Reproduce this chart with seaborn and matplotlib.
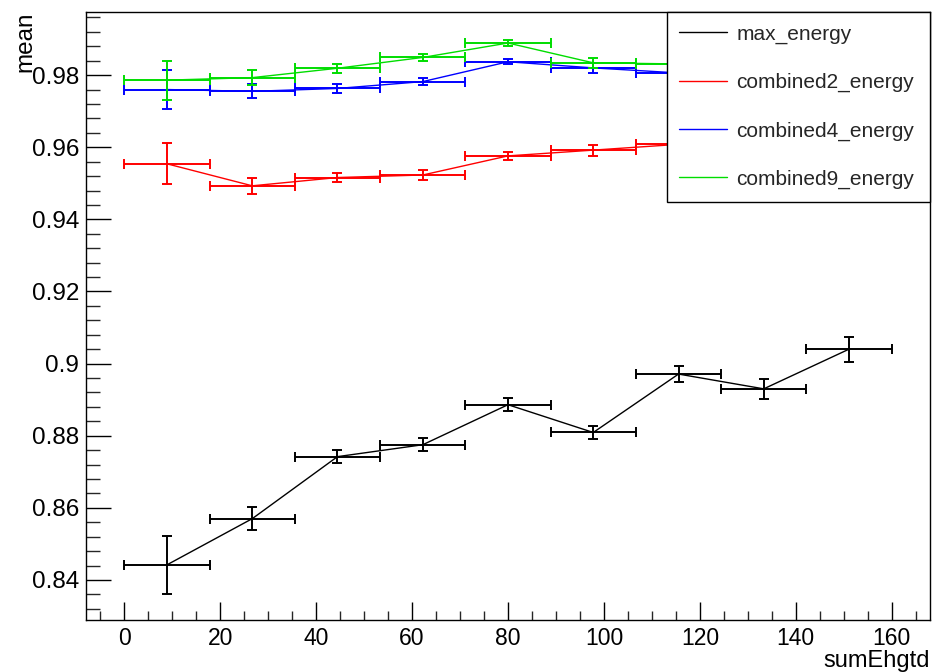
import numpy as np
import pandas as pd
import matplotlib
matplotlib.use("Agg")
import matplotlib.pyplot as plt
from matplotlib.lines import Line2D
from matplotlib.ticker import FixedLocator, MultipleLocator, FuncFormatter
import seaborn as sns

# ---------------- data ----------------
x_centers = [8.89, 26.67, 44.44, 62.22, 80.0, 97.78, 115.56, 133.33, 151.11]
x_halfwidth = [8.89, 8.89, 8.89, 8.89, 8.89, 8.89, 8.89, 8.89, 8.89]

series_names = ["max_energy", "combined2_energy", "combined4_energy", "combined9_energy"]

max_energy = [0.8442, 0.8570, 0.8742, 0.8775, 0.8886, 0.8809, 0.8971, 0.8930, 0.9040]
max_energy_err = [0.0080, 0.0031, 0.0018, 0.0018, 0.0018, 0.0019, 0.0022, 0.0028, 0.0035]

combined2_energy = [0.9554, 0.9493, 0.9516, 0.9523, 0.9576, 0.9592, 0.9608, 0.9615, 0.9622]
combined2_err = [0.0057, 0.0022, 0.0013, 0.0013, 0.0012, 0.0015, 0.0015, 0.0017, 0.0020]

combined4_energy = [0.9760, 0.9755, 0.9763, 0.9782, 0.9837, 0.9820, 0.9806, 0.9800, 0.9805]
combined4_err = [0.0053, 0.0019, 0.0013, 0.0009, 0.0007, 0.0013, 0.0013, 0.0016, 0.0020]

combined9_energy = [0.9786, 0.9793, 0.9819, 0.9849, 0.9889, 0.9834, 0.9831, 0.9833, 0.9838]
combined9_err = [0.0054, 0.0021, 0.0013, 0.0010, 0.0008, 0.0013, 0.0012, 0.0015, 0.0018]

y_ticks = [0.84, 0.86, 0.88, 0.90, 0.92, 0.94, 0.96, 0.98]
x_ticks = [0, 20, 40, 60, 80, 100, 120, 140, 160]

colors = ["#000000", "#ff0000", "#0000ff", "#00dd00"]

# ---------------- build table ----------------
values = [max_energy, combined2_energy, combined4_energy, combined9_energy]
errors = [max_energy_err, combined2_err, combined4_err, combined9_err]
rows = []
for name, vals, errs in zip(series_names, values, errors):
    for xc, xw, v, e in zip(x_centers, x_halfwidth, vals, errs):
        rows.append({"series": name, "sumEhgtd": xc, "xerr": xw, "mean": v, "yerr": e})
df = pd.DataFrame(rows)

# ---------------- style ----------------
sns.set_theme(style="white")
plt.rcParams["font.family"] = ["Liberation Sans", "DejaVu Sans"]

fig = plt.figure(figsize=(9.32, 6.72), dpi=100)
ax = fig.add_axes([86 / 932, 52 / 672, 844 / 932, 608 / 672])

palette = dict(zip(series_names, colors))
sns.lineplot(data=df, x="sumEhgtd", y="mean", hue="series", hue_order=series_names,
             palette=palette, sort=False, linewidth=1.0, legend=False, ax=ax,
             estimator=None)

for name in series_names:
    sub = df[df["series"] == name]
    ax.errorbar(sub["sumEhgtd"], sub["mean"], xerr=sub["xerr"], yerr=sub["yerr"],
                fmt="none", ecolor=palette[name], elinewidth=1.4, capsize=3.5,
                capthick=1.4, zorder=3)

ax.set_xlim(-8, 168)
ax.set_ylim(0.8289, 0.9975)

ax.yaxis.set_major_locator(FixedLocator(y_ticks))
ax.yaxis.set_minor_locator(MultipleLocator(0.004))
ax.yaxis.set_major_formatter(FuncFormatter(lambda v, p: "%g" % round(v, 4)))
ax.xaxis.set_major_locator(FixedLocator(x_ticks))
ax.xaxis.set_minor_locator(MultipleLocator(5))

ax.tick_params(axis="y", which="major", direction="in", length=18, width=1,
               left=True, right=False, labelsize=17.5, pad=5, colors="black")
ax.tick_params(axis="y", which="minor", direction="in", length=10, width=1,
               left=True, right=False)
ax.tick_params(axis="x", which="major", direction="in", length=13, width=1,
               bottom=True, top=False, labelsize=16.5, pad=5, colors="black")
ax.tick_params(axis="x", which="minor", direction="in", length=6.5, width=1,
               bottom=True, top=False)

for sp in ax.spines.values():
    sp.set_visible(True)
    sp.set_color("black")
    sp.set_linewidth(1.0)

ax.set_ylabel("mean", loc="top", fontsize=17.5, color="black")
ax.yaxis.set_label_coords(-0.059, 1.0)
ax.set_xlabel("sumEhgtd", loc="right", fontsize=17, color="black")
ax.xaxis.set_label_coords(1.0, -0.050)

handles = [Line2D([0], [0], color=c, lw=1.0) for c in colors]
leg = ax.legend(handles, series_names, loc="upper left",
                bbox_to_anchor=(0.688, 0.6875, 0.312, 0.3125), mode="expand",
                borderaxespad=0, fontsize=15, frameon=True, fancybox=False,
                framealpha=1.0, edgecolor="black", borderpad=0.6,
                labelspacing=1.4, handlelength=2.3, handletextpad=0.45)
leg.get_frame().set_linewidth(1.0)
leg.set_zorder(10)

fig.savefig("out.png", dpi=100, facecolor="white")
